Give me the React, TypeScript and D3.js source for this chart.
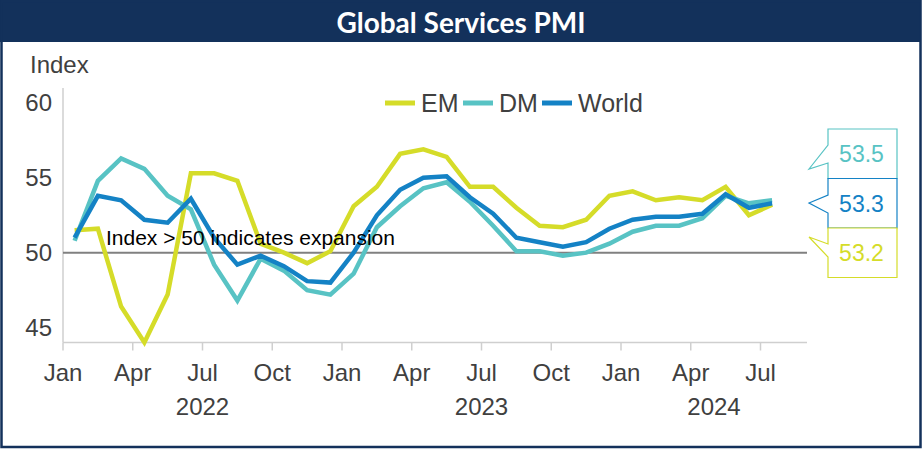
import React from "react";
import * as d3 from "d3";

// monthly readings, Jan 2022 .. Jul 2024
const emValues = [
  51.5, 51.6, 46.4, 44.0, 47.2, 55.3, 55.3, 54.8, 50.6, 50.0, 49.3, 50.1,
  53.1, 54.4, 56.6, 56.9, 56.4, 54.4, 54.4, 53.0, 51.8, 51.7, 52.2, 53.8,
  54.1, 53.5, 53.7, 53.5, 54.4, 52.5, 53.2,
];
const dmValues = [
  50.8, 54.8, 56.3, 55.6, 53.8, 52.9, 49.2, 46.8, 49.6, 48.8, 47.5, 47.2,
  48.6, 51.7, 53.1, 54.3, 54.7, 53.4, 51.8, 50.1, 50.1, 49.8, 50.0, 50.6,
  51.4, 51.8, 51.8, 52.3, 53.8, 53.3, 53.5,
];
const worldValues = [
  51.0, 53.8, 53.5, 52.2, 52.0, 53.6, 51.0, 49.2, 49.8, 49.1, 48.1, 48.0,
  50.0, 52.5, 54.2, 55.0, 55.1, 53.7, 52.6, 51.0, 50.7, 50.4, 50.7, 51.6,
  52.2, 52.4, 52.4, 52.6, 53.9, 53.0, 53.3,
];

const tickLabels = ["Jan", "Apr", "Jul", "Oct", "Jan", "Apr", "Jul", "Oct", "Jan", "Apr", "Jul"];
const years = ["2022", "2023", "2024"];
const yTicks = [45, 50, 55, 60];

const series = [
  { name: "EM", values: emValues, color: "#d5dc29", label: "53.2" },
  { name: "DM", values: dmValues, color: "#58c3c4", label: "53.5" },
  { name: "World", values: worldValues, color: "#1482c5", label: "53.3" },
];

const W = 924;
const H = 449;
const navy = "#13315b";
const axisFont = "'Liberation Sans', Arial, sans-serif";

export default function App() {
  const x = d3.scaleLinear().domain([0, 32]).range([63, 807]);
  const y = d3.scaleLinear().domain([44, 61]).range([342.5, 88]);

  const line = d3
    .line<number>()
    .x((_, i) => x(i + 0.5))
    .y((d) => y(d));

  // year groups: 2022, 2023 full, 2024 runs to the axis end
  const yearRanges = [
    [0, 12],
    [12, 24],
    [24, 32],
  ];

  // callout boxes on the right
  const boxX = 828;
  const boxW = 69;
  const callouts = [
    { s: series[1], top: 129, tip: [809, 169], base: [145, 163] },
    { s: series[2], top: 178.5, tip: [809, 203], base: [195, 213] },
    { s: series[0], top: 228, tip: [809, 237], base: [244, 257] },
  ];

  return (
    <svg
      width={W}
      height={H}
      style={{ position: "absolute", left: 0, top: 0, background: "#fff" }}
    >
      {/* frame and title bar */}
      <rect x={0} y={0} width={W - 3} height={42} fill={navy} />
      <rect x={1.5} y={1} width={W - 5} height={H - 3} fill="none" stroke={navy} strokeWidth={2.5} />
      <text
        x={461}
        y={33}
        textAnchor="middle"
        fill="#fff"
        fontFamily="Lato, 'Open Sans', sans-serif"
        fontWeight="bold"
        fontSize={28}
      >
        Global Services PMI
      </text>

      <text x={30} y={73} fontFamily={axisFont} fontSize={24} fill="#404040">
        Index
      </text>

      {/* y axis */}
      <line x1={x(0)} x2={x(0)} y1={y(61)} y2={y(44)} stroke="#cfcfcf" strokeWidth={1.5} />
      {yTicks.map((t) => (
        <text
          key={t}
          x={52}
          y={y(t) + 8}
          textAnchor="end"
          fontFamily={axisFont}
          fontSize={24}
          fill="#404040"
        >
          {t}
        </text>
      ))}

      {/* x axis */}
      <line x1={x(0)} x2={x(32)} y1={y(44)} y2={y(44)} stroke="#cfcfcf" strokeWidth={1.5} />
      {tickLabels.map((lab, k) => (
        <g key={k}>
          <line
            x1={x(k * 3)}
            x2={x(k * 3)}
            y1={y(44)}
            y2={y(44) + 8}
            stroke="#cfcfcf"
            strokeWidth={1.5}
          />
          <text
            x={x(k * 3)}
            y={381}
            textAnchor="middle"
            fontFamily={axisFont}
            fontSize={24}
            fill="#404040"
          >
            {lab}
          </text>
        </g>
      ))}
      {years.map((yr, k) => (
        <text
          key={yr}
          x={x((yearRanges[k][0] + yearRanges[k][1]) / 2)}
          y={415}
          textAnchor="middle"
          fontFamily={axisFont}
          fontSize={24}
          fill="#404040"
        >
          {yr}
        </text>
      ))}

      {/* 50 reference */}
      <line x1={x(0)} x2={x(32)} y1={y(50)} y2={y(50)} stroke="#808080" strokeWidth={2} />

      {/* series */}
      {series.map((s) => (
        <path
          key={s.name}
          d={line(s.values) || ""}
          fill="none"
          stroke={s.color}
          strokeWidth={4.5}
          strokeLinejoin="miter"
        />
      ))}

      <text x={106} y={245} fontFamily={axisFont} fontSize={21} fill="#000">
        Index &gt; 50 indicates expansion
      </text>

      {/* legend */}
      {[
        { s: series[0], lx: 385, tx: 421 },
        { s: series[1], lx: 463, tx: 499 },
        { s: series[2], lx: 542, tx: 578 },
      ].map(({ s, lx, tx }) => (
        <g key={s.name}>
          <line x1={lx} x2={lx + 30} y1={103} y2={103} stroke={s.color} strokeWidth={5} />
          <text x={tx} y={112} fontFamily={axisFont} fontSize={25} fill="#404040">
            {s.name}
          </text>
        </g>
      ))}

      {/* callouts */}
      {callouts.map(({ s, top, tip, base }) => (
        <g key={s.name}>
          <path
            d={`M${boxX},${top}H${boxX + boxW}V${top + 49.5}H${boxX}V${base[1]}L${tip[0]},${tip[1]}L${boxX},${base[0]}Z`}
            fill="#fff"
            stroke={s.color}
            strokeWidth={1.2}
          />
          <text
            x={boxX + boxW / 2 - 1}
            y={top + 33}
            textAnchor="middle"
            fontFamily={axisFont}
            fontSize={23}
            fill={s.color}
          >
            {s.label}
          </text>
        </g>
      ))}
    </svg>
  );
}
